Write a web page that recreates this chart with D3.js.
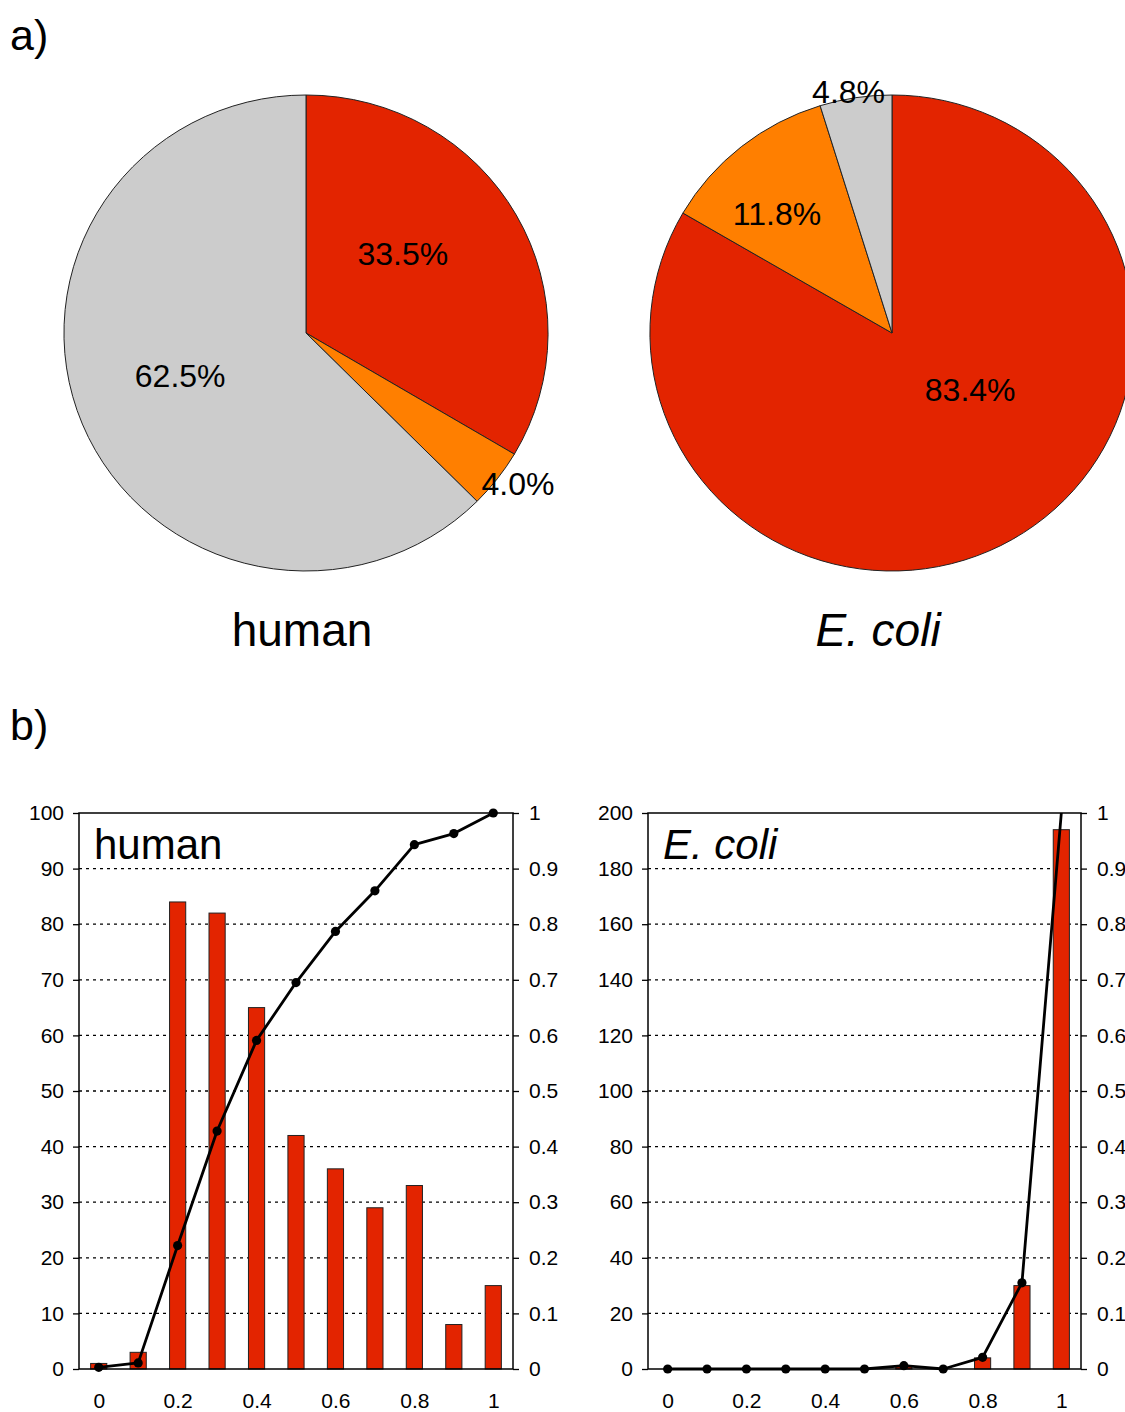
<!DOCTYPE html>
<html>
<head>
<meta charset="utf-8">
<script src="https://cdn.jsdelivr.net/npm/d3@7"></script>
<style>
  html, body { margin: 0; padding: 0; background: #fff; overflow: hidden; }
  svg { display: block; font-family: "Liberation Sans", Arial, sans-serif; }
</style>
</head>
<body>
<svg id="chart" width="1125" height="1412"></svg>
<script>
// ---- data ----
const sliceNames = ["red", "orange", "grey"];
const humanShares = [33.5, 4.0, 62.5];
const ecoliShares = [83.4, 11.8, 4.8];

const bins = [0, 0.1, 0.2, 0.3, 0.4, 0.5, 0.6, 0.7, 0.8, 0.9, 1];
const binLabels = ["0", "0.2", "0.4", "0.6", "0.8", "1"];
const humanCounts = [1, 3, 84, 82, 65, 42, 36, 29, 33, 8, 15];
const humanCumulative = [0.003, 0.011, 0.222, 0.428, 0.591, 0.695, 0.787, 0.860, 0.943, 0.963, 1.0];
const ecoliCounts = [0, 0, 0, 0, 0, 0, 1, 0, 4, 30, 194];
const ecoliCumulative = [0, 0, 0, 0, 0, 0, 0.006, 0, 0.021, 0.155, 1.0];

const sliceColors = ["#e32400", "#ff7f00", "#cccccc"];
const barColor = "#e32400";

const svg = d3.select("#chart");

// panel letters
svg.append("text").attr("x", 10).attr("y", 50).attr("font-size", 43).text("a)");
svg.append("text").attr("x", 10).attr("y", 740).attr("font-size", 43).text("b)");

// ---- pies ----
// label placement: angle shift from slice middle (deg) and radius fraction
function drawPie(cfg) {
    const g = svg.append("g").attr("transform", `translate(${cfg.cx},${cfg.cy})`);
    const arcs = d3.pie().sort(null).value(d => d)(cfg.values);
    const arc = d3.arc().innerRadius(0).outerRadius(1);

    g.append("g")
        .attr("transform", `scale(${cfg.rx},${cfg.ry})`)
        .selectAll("path")
        .data(arcs)
        .join("path")
        .attr("d", arc)
        .attr("fill", (d, i) => sliceColors[i])
        .attr("stroke", "#222")
        .attr("stroke-width", 1)
        .attr("vector-effect", "non-scaling-stroke");

    g.selectAll("text.pct")
        .data(arcs)
        .join("text")
        .attr("class", "pct")
        .each(function (d, i) {
            const a = (d.startAngle + d.endAngle) / 2 + cfg.labelShift[i] * Math.PI / 180;
            const f = cfg.labelRadius[i];
            d3.select(this)
                .attr("x", Math.sin(a) * cfg.rx * f)
                .attr("y", -Math.cos(a) * cfg.ry * f);
        })
        .attr("text-anchor", "middle")
        .attr("dy", "0.36em")
        .attr("font-size", 32)
        .text(d => d.data.toFixed(1) + "%");

    g.append("text")
        .attr("x", cfg.titleDx)
        .attr("y", 313)
        .attr("text-anchor", "middle")
        .attr("font-size", 46)
        .attr("font-style", cfg.italic ? "italic" : "normal")
        .text(cfg.title);
}

drawPie({
    cx: 306, cy: 333, rx: 242, ry: 238, values: humanShares,
    labelShift: [-10, -2, 3.5], labelRadius: [0.52, 1.08, 0.55],
    title: "human", italic: false, titleDx: -4
});
drawPie({
    cx: 892, cy: 333, rx: 242, ry: 238, values: ecoliShares,
    labelShift: [-24, -5, -1.4], labelRadius: [0.40, 0.69, 1.03],
    title: "E. coli", italic: true, titleDx: -14
});

// ---- histograms ----
function drawHist(cfg) {
    const g = svg.append("g");
    const x = d3.scalePoint().domain(bins).range([cfg.left, cfg.right]).padding(0.5);
    const y = d3.scaleLinear().domain([0, cfg.yMax]).range([cfg.bottom, cfg.top]);
    const y2 = d3.scaleLinear().domain([0, 1]).range([cfg.bottom, cfg.top]);
    const barW = x.step() * 0.41;

    const leftTicks = d3.range(0, cfg.yMax + 1, cfg.yMax / 10);

    // dotted grid
    g.append("g")
        .selectAll("line")
        .data(leftTicks.slice(1, -1))
        .join("line")
        .attr("x1", cfg.left).attr("x2", cfg.right)
        .attr("y1", d => y(d)).attr("y2", d => y(d))
        .attr("stroke", "#000")
        .attr("stroke-width", 1.3)
        .attr("stroke-dasharray", "3,4");

    // bars
    g.append("g")
        .selectAll("rect")
        .data(cfg.counts.map((c, i) => ({ bin: bins[i], c })))
        .join("rect")
        .attr("x", d => x(d.bin) - barW / 2)
        .attr("width", barW)
        .attr("y", d => y(d.c))
        .attr("height", d => cfg.bottom - y(d.c))
        .attr("fill", barColor)
        .attr("stroke", "#222")
        .attr("stroke-width", d => d.c > 0 ? 1 : 0);

    // frame
    g.append("rect")
        .attr("x", cfg.left).attr("y", cfg.top)
        .attr("width", cfg.right - cfg.left).attr("height", cfg.bottom - cfg.top)
        .attr("fill", "none").attr("stroke", "#000").attr("stroke-width", 1.5);

    // axes
    const leftAxis = g.append("g")
        .attr("transform", `translate(${cfg.left},0)`)
        .call(d3.axisLeft(y).tickValues(leftTicks).tickSize(6).tickPadding(9).tickFormat(d3.format("d")));
    const rightAxis = g.append("g")
        .attr("transform", `translate(${cfg.right},0)`)
        .call(d3.axisRight(y2).tickValues(d3.range(0, 1.01, 0.1)).tickSize(6).tickPadding(10)
            .tickFormat(d => d === 0 ? "0" : d >= 0.999 ? "1" : d3.format(".1f")(d)));
    const bottomAxis = g.append("g")
        .attr("transform", `translate(0,${cfg.bottom})`)
        .call(d3.axisBottom(x).tickValues(bins.filter((b, i) => i % 2 === 0)).tickSize(0).tickPadding(24)
            .tickFormat((d, i) => binLabels[i]));

    [leftAxis, rightAxis, bottomAxis].forEach(a => {
        a.select(".domain").remove();
        a.selectAll("line").attr("stroke", "#000").attr("stroke-width", 1.3);
        a.selectAll("text").attr("font-size", 21).attr("fill", "#000")
            .attr("font-family", "\"Liberation Sans\", Arial, sans-serif");
    });

    // cumulative line
    const pts = cfg.cumulative.map((v, i) => [x(bins[i]), y2(v)]);
    g.append("path")
        .attr("d", d3.line()(pts))
        .attr("fill", "none")
        .attr("stroke", "#000")
        .attr("stroke-width", 2.8)
        .attr("stroke-linejoin", "round");
    g.append("g")
        .selectAll("circle")
        .data(pts.slice(0, cfg.dots))
        .join("circle")
        .attr("cx", d => d[0]).attr("cy", d => d[1])
        .attr("r", 4.6)
        .attr("fill", "#000");

    g.append("text")
        .attr("x", cfg.left + 15)
        .attr("y", cfg.top + 46)
        .attr("font-size", 42)
        .attr("font-style", cfg.italic ? "italic" : "normal")
        .text(cfg.title);
}

drawHist({
    left: 79, right: 513, top: 813, bottom: 1369, yMax: 100,
    counts: humanCounts, cumulative: humanCumulative, dots: 11,
    title: "human", italic: false
});
drawHist({
    left: 648, right: 1081, top: 813, bottom: 1369, yMax: 200,
    counts: ecoliCounts, cumulative: ecoliCumulative, dots: 10,
    title: "E. coli", italic: true
});
</script>
</body>
</html>
